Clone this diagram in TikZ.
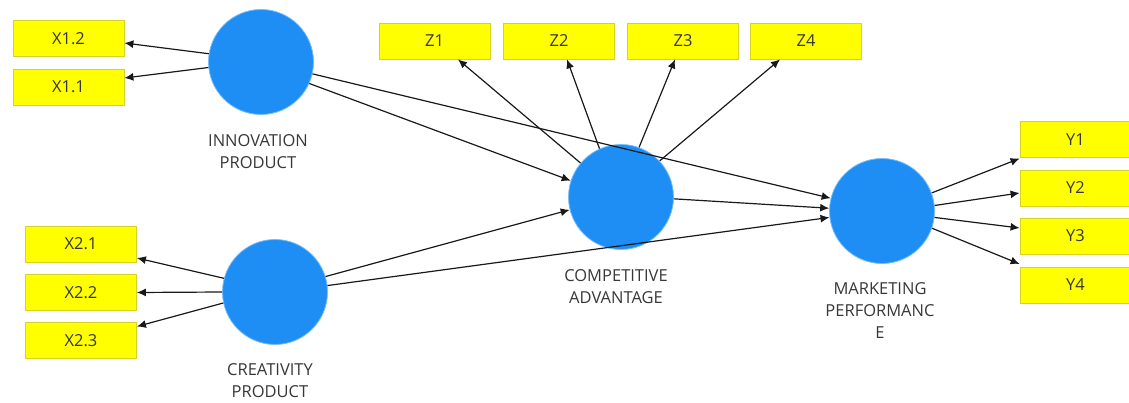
\documentclass[tikz,border=0pt]{standalone}
\usepackage{fontspec}
\setmainfont{Open Sans}
\usetikzlibrary{arrows.meta,calc}
\definecolor{lvblue}{RGB}{30,142,245}
\definecolor{lvedge}{RGB}{120,190,250}
\definecolor{mvyellow}{RGB}{255,255,0}
\definecolor{mvborder}{RGB}{215,210,40}
\definecolor{txt}{RGB}{55,55,55}
\begin{document}
\begin{tikzpicture}[x=1pt,y=-1pt,
  ind/.style={draw=mvborder, line width=0.8pt, fill=mvyellow, minimum width=111pt, minimum height=36pt, inner sep=0pt, font=\fontsize{16.5}{18}\selectfont, text=txt},
  lv/.style={circle, fill=lvblue, draw=lvedge, line width=0.8pt, minimum size=105pt, inner sep=0pt},
  lbl/.style={align=center, font=\fontsize{16.5}{22}\selectfont, text=txt},
  arr/.style={-{Latex[length=9pt,width=8pt]}, line width=1.2pt, black!90}]
\useasboundingbox (0,0) rectangle (1129,403);
% indicators
\node[ind] (x12) at (68.5,38.5) {X1.2};
\node[ind] (x11) at (68.5,87) {X1.1};
\node[ind] (x21) at (81,244) {X2.1};
\node[ind] (x22) at (81,292.5) {X2.2};
\node[ind] (x23) at (81,340.5) {X2.3};
\node[ind] (z1) at (434.5,41) {Z1};
\node[ind] (z2) at (559,41) {Z2};
\node[ind] (z3) at (683,41) {Z3};
\node[ind] (z4) at (806,41) {Z4};
\node[ind] (y1) at (1075.5,139.5) {Y1};
\node[ind] (y2) at (1075.5,188) {Y2};
\node[ind] (y3) at (1075.5,236) {Y3};
\node[ind] (y4) at (1075.5,285) {Y4};
% latent variables
\node[lv] (inn) at (261,62) {};
\node[lv] (cre) at (275,292) {};
\node[lv] (comp) at (621,197) {};
\node[lv] (mkt) at (882,211) {};
% labels
\node[lbl] (linn) at (258,152) {INNOVATION\\PRODUCT};
\node[lbl] (lcre) at (270,381) {CREATIVITY\\PRODUCT};
\node[lbl] (lcomp) at (616,287) {COMPETITIVE\\ADVANTAGE};
\node[lbl] (lmkt) at (880,311) {MARKETING\\PERFORMANC\\E};
% outer loadings
\draw[arr] (inn.171) -- ($(x12.east)+(0,4.5)$);
\draw[arr] (inn.186) -- ($(x11.east)+(0,-9)$);
\draw[arr] (cre.165) -- ($(x21.east)+(0,14)$);
\draw[arr] (cre.180) -- (x22.east);
\draw[arr] (cre.192) -- ($(x23.east)+(0,-14)$);
\draw[arr] (comp.140) -- ($(z1.south)+(23.5,0)$);
\draw[arr] (comp.114) -- ($(z2.south)+(8,0)$);
\draw[arr] (comp.70) -- ($(z3.south)+(-8,0)$);
\draw[arr] (comp.43) -- ($(z4.south)+(-26,0)$);
\draw[arr] (mkt.20) -- ($(y1.west)+(0,19)$);
\draw[arr] (mkt.6.5) -- ($(y2.west)+(0,5)$);
\draw[arr] (mkt.353.5) -- ($(y3.west)+(0,-8)$);
\draw[arr] (mkt.341) -- ($(y4.west)+(0,-21)$);
% structural paths
\draw[arr] (inn.336) -- (comp.162.5);
\draw[arr] (inn.347) -- (mkt.166);
\draw[arr] (cre.17) -- (comp.194);
\draw[arr] (cre.7) -- (mkt.187);
\draw[arr] (comp.358) -- (mkt.177);
\end{tikzpicture}
\end{document}
